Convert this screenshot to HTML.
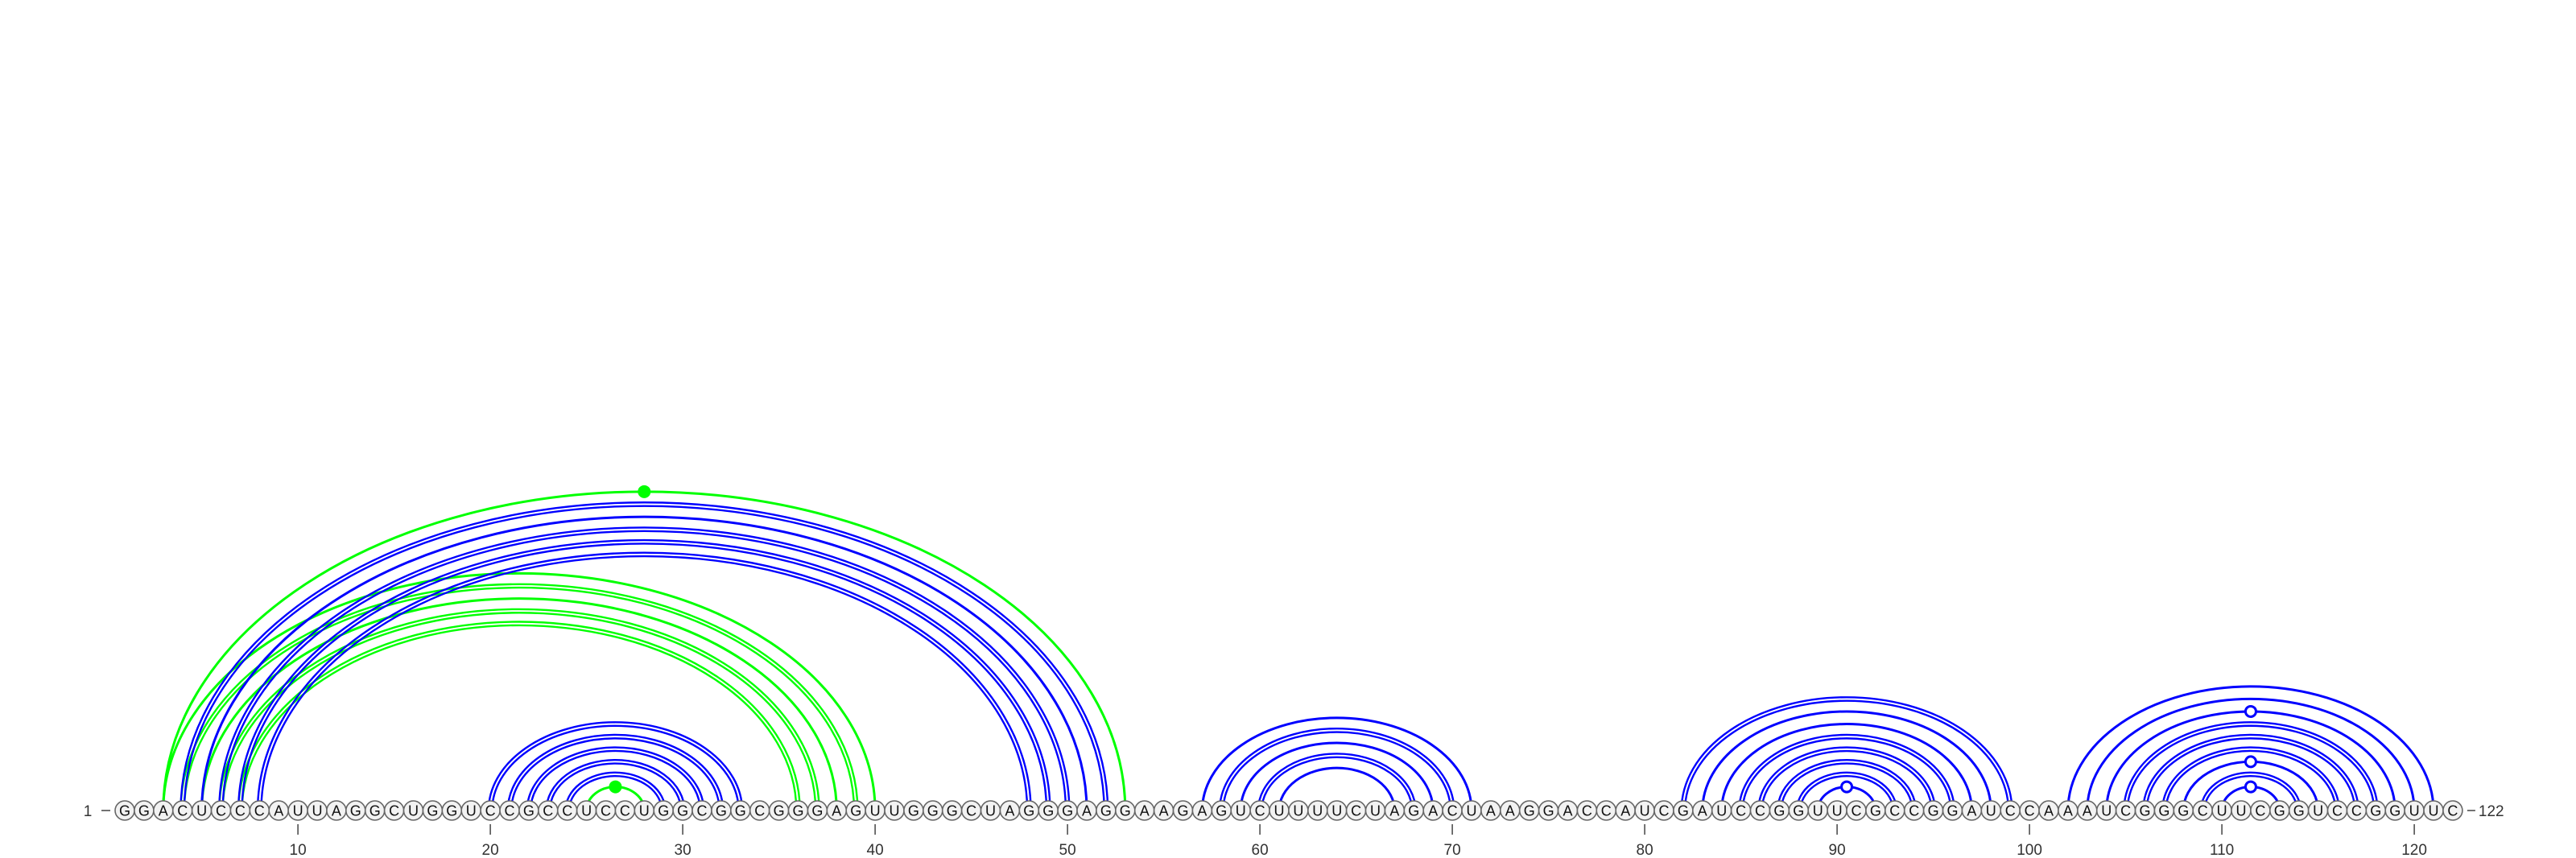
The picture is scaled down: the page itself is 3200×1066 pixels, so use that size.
<!DOCTYPE html>
<html><head><meta charset="utf-8">
<style>
html,body{margin:0;padding:0;background:#fff;}
svg{display:block;}
text{font-family:"Liberation Sans","DejaVu Sans",sans-serif;}
</style></head>
<body>
<svg id="chart" width="3200" height="1066" viewBox="0 0 3200 1066" xmlns="http://www.w3.org/2000/svg">
<g id="arcs"></g>
<g id="dots"></g>
<g id="nts"></g>
<g id="axis"></g>
</svg>
<script>
const sequence = "GGACUCCCAUUAGGCUGGUCCGCCUCCUGGCGGCGGGAGUUGGGCUAGGGAGGAAGAGUCUUUUCUAGACUAAGGACCAUCGAUCCGGUUCGCCGGAUCCAAAUCGGGCUUCGGUCCGGUUC";
const bluePairs = [[4,52],[5,51],[6,50],[7,49],[8,48],[20,33],[21,32],[22,31],[23,30],[24,29],
  [57,71],[58,70],[59,69],[60,68],[61,67],
  [82,99],[83,98],[84,97],[85,96],[86,95],[87,94],[88,93],[89,92],
  [102,121],[103,120],[104,119],[105,118],[106,117],[107,116],[108,115],[109,114],[110,113]];
const greenPairs = [[3,53],[3,40],[4,39],[5,38],[6,37],[7,36],[25,28]];
const tickPositions = [10,20,30,40,50,60,70,80,90,100,110,120];

const NS = "http://www.w3.org/2000/svg";
const X0 = 155, STEP = 23.9, YB = 1007;
function xPos(i){ return X0 + (i-1)*STEP; }
function mk(tag, attrs, parent){ const e=document.createElementNS(NS,tag); for(const k in attrs) e.setAttribute(k,attrs[k]); parent.appendChild(e); return e; }
const arcs=document.getElementById('arcs'), dots=document.getElementById('dots'), nts=document.getElementById('nts'), axis=document.getElementById('axis');

function pairType(a,b){
  const p=(sequence[a-1]+sequence[b-1]);
  if(p==="GC"||p==="CG") return "double";
  if(p==="AU"||p==="UA") return "single";
  if(p==="GU"||p==="UG") return "wobble";
  return "noncanon";
}
function arcPath(x1,x2,rx,ry){ return `M${x1},${YB} A${rx},${ry} 0 0 1 ${x2},${YB}`; }
function drawPair(pr,color,cls){
  const [a,b]=pr; const x1=xPos(a), x2=xPos(b); const rx=(x2-x1)/2; const ry=0.653*rx+6; const cx=(x1+x2)/2;
  const t=pairType(a,b);
  if(t==="double"){
    for(const d of [-2.2,2.2]){
      const p=mk('path',{d:arcPath(x1-d,x2+d,rx+d,ry+d),fill:'none',stroke:color,'stroke-width':2.4},arcs);
      
      
    }
  } else {
    const p=mk('path',{d:arcPath(x1,x2,rx,ry),fill:'none',stroke:color,'stroke-width':3},arcs);
    
    
    if(t==="wobble"||t==="noncanon"){
      const c=mk('circle',{cx:cx,cy:YB-ry,r:6.5,fill:t==="wobble"?'#fff':color,stroke:color,'stroke-width':3},dots);
      
      
    }
  }
}
greenPairs.forEach(p=>drawPair(p,'#00ff00','green'));
bluePairs.forEach(p=>drawPair(p,'#0000ff','blue'));

for(let i=1;i<=sequence.length;i++){
  const x=xPos(i);
  const c=mk('circle',{cx:x,cy:YB,r:12,fill:'#f2f2f2',stroke:'#666','stroke-width':1.6},nts);
  
  
  const t=mk('text',{x:x,y:YB+6.5,'text-anchor':'middle','font-size':18,fill:'#111'},nts);
  t.textContent=sequence[i-1];
  
  
}
tickPositions.forEach(v=>{
  const x=xPos(v);
  const l=mk('line',{x1:x,x2:x,y1:1024,y2:1037,stroke:'#444','stroke-width':1.5},axis);
  
  
  const t=mk('text',{x:x,y:1062,'text-anchor':'middle','font-size':19,fill:'#333'},axis);
  t.textContent=v;
  
  
});
const s=mk('text',{x:109,y:1014,'text-anchor':'middle','font-size':19,fill:'#333'},axis);
s.textContent='1';


const sd=mk('line',{x1:126,x2:137,y1:YB,y2:YB,stroke:'#444','stroke-width':1.5},axis);


const n=sequence.length;
const ed=mk('line',{x1:xPos(n)+18,x2:xPos(n)+28,y1:YB,y2:YB,stroke:'#444','stroke-width':1.5},axis);


const e=mk('text',{x:xPos(n)+32,y:1014,'font-size':19,fill:'#333'},axis);
e.textContent=String(n);


</script>
</body></html>
